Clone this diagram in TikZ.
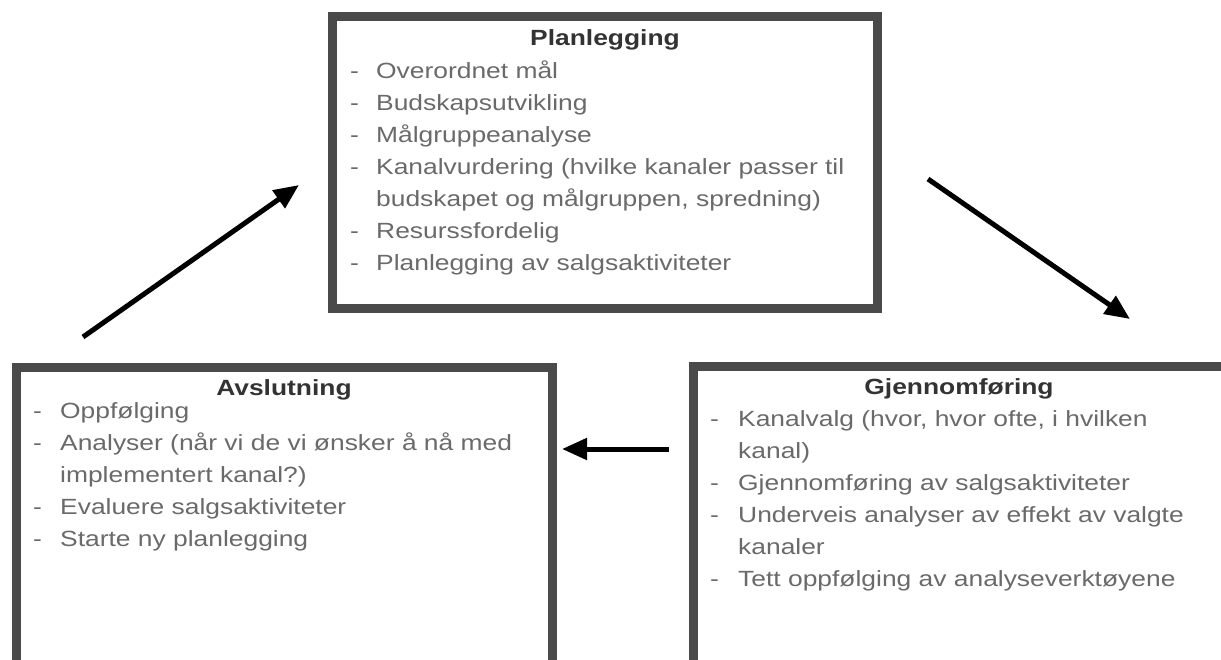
\documentclass[tikz,border=0pt]{standalone}
\usepackage{fontspec}
\setmainfont[FakeStretch=1.2]{Liberation Sans}
\usetikzlibrary{arrows.meta}

\definecolor{boxgray}{HTML}{4A4A4A}
\definecolor{itemgray}{HTML}{6A6A6A}
\definecolor{titlegray}{HTML}{333333}

\tikzset{%
  phase box/.style={
    rectangle,
    draw=boxgray,
    line width=9pt,
    inner sep=0pt
  },
  phase title/.style={
    anchor=base,
    inner sep=0pt,
    text=titlegray,
    font=\fontsize{22}{32}\selectfont\bfseries
  },
  phase item/.style={
    anchor=base west,
    inner sep=0pt,
    text=itemgray,
    font=\fontsize{22}{32}\selectfont
  },
  phase arrow/.style={
    -{Triangle[length=25pt, width=21pt]},
    line width=5pt
  },
}

\begin{document}
\begin{tikzpicture}[x=1pt, y=-1pt]

\fill[white] (0,0) rectangle (1221,659);
\useasboundingbox (0,0) rectangle (1221,659);
\clip (0,0) rectangle (1221,659);

% the three phases
\node [phase box, minimum width=545pt, minimum height=292pt] (plan) at (605,162) {};
\node [phase box, minimum width=547pt, minimum height=340pt] (gjen) at (967,536) {};
\node [phase box, minimum width=536pt, minimum height=340pt] (avs) at (284.5,537.5) {};

\node [phase title] (plan-title) at (605,45) {Planlegging};
\node [phase title] (gjen-title) at (959,394) {Gjennomføring};
\node [phase title] (avs-title) at (284,395) {Avslutning};

\foreach \d/\t [count=\i from 0] in {-/Overordnet mål, -/Budskapsutvikling,
    -/Målgruppeanalyse, -/{Kanalvurdering (hvilke kanaler passer til},
    /{budskapet og målgruppen, spredning)}, -/Resurssfordelig,
    -/Planlegging av salgsaktiviteter}
  {
  \node [phase item] (plan-dash-\i) at (350,78+32*\i) {\d};
  \node [phase item] (plan-\i) at (376,78+32*\i) {\t};
  }

\foreach \d/\t [count=\i from 0] in {-/{Kanalvalg (hvor, hvor ofte, i hvilken},
    /kanal), -/Gjennomføring av salgsaktiviteter,
    -/Underveis analyser av effekt av valgte, /kanaler,
    -/Tett oppfølging av analyseverktøyene}
  {
  \node [phase item] (gjen-dash-\i) at (710,426+32*\i) {\d};
  \node [phase item] (gjen-\i) at (738,426+32*\i) {\t};
  }

\foreach \d/\t [count=\i from 0] in {-/Oppfølging,
    -/Analyser (når vi de vi ønsker å nå med, /implementert kanal?),
    -/Evaluere salgsaktiviteter, -/Starte ny planlegging}
  {
  \node [phase item] (avs-dash-\i) at (33,418+32*\i) {\d};
  \node [phase item] (avs-\i) at (60,418+32*\i) {\t};
  }

% arrow ends
\coordinate (avs-out) at (83,337);
\coordinate (plan-in) at (299,185);
\coordinate (plan-out) at (928,179);
\coordinate (gjen-in) at (1130,319);
\coordinate (gjen-out) at (669,449);
\coordinate (avs-in) at (562,449);

\draw [phase arrow] (avs-out) -- (plan-in);
\draw [phase arrow] (plan-out) -- (gjen-in);
\draw [phase arrow] (gjen-out) -- (avs-in);

\end{tikzpicture}
\end{document}
